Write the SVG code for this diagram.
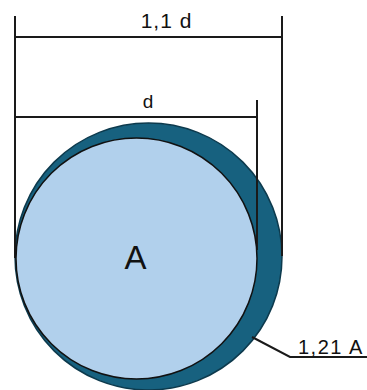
<svg xmlns="http://www.w3.org/2000/svg" width="367" height="390" viewBox="0 0 367 390">
<style>
.dim{stroke:#1a1a1a;stroke-width:2;fill:none}
.t{font-family:"Liberation Sans",Arial,sans-serif;fill:#111}
</style>
<rect width="367" height="390" fill="#fff"/>
<g id="outer-circle">
<circle cx="148.5" cy="256.5" r="133.5" fill="#17617f" stroke="#0d3a4d" stroke-width="1.5"/>
</g>
<g id="connectors">
<line class="dim" x1="15" y1="16" x2="15" y2="258"/>
<line class="dim" x1="282" y1="16" x2="282" y2="256"/>
<line class="dim" x1="15" y1="37" x2="282" y2="37"/>
<line class="dim" x1="257" y1="100" x2="257" y2="250"/>
<line class="dim" x1="15" y1="117" x2="257" y2="117"/>
<polyline class="dim" points="252,337 290,357 367,357"/>
</g>
<g id="inner-circle">
<circle cx="136.5" cy="258.5" r="120.5" fill="#b1d0ec" stroke="#111" stroke-width="1.5"/>
</g>
<g id="labels">
<text class="t" x="166.5" y="28" font-size="21" text-anchor="middle" letter-spacing="1">1,1 d</text>
<text class="t" x="148" y="108" font-size="19" text-anchor="middle">d</text>
<text class="t" x="135.5" y="269" font-size="33" text-anchor="middle">A</text>
<text class="t" x="298" y="354" font-size="20" letter-spacing="1.5">1,21 A</text>
</g>
</svg>
